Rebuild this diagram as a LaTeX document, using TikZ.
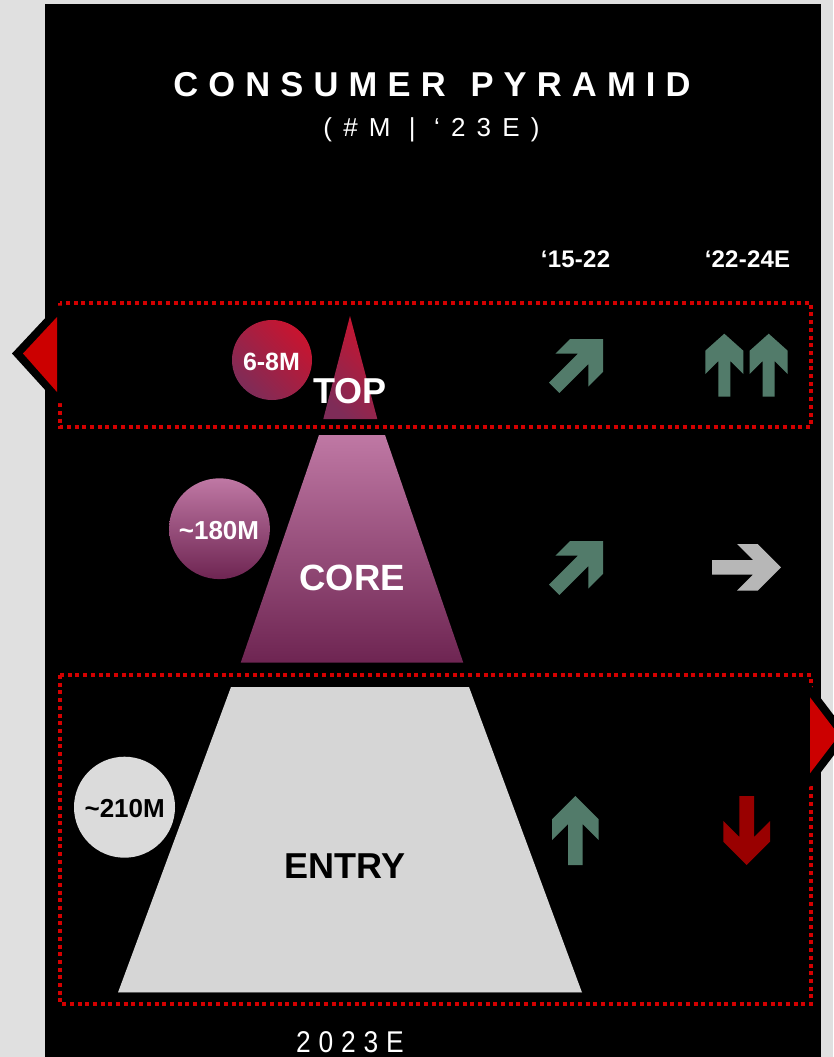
\documentclass[tikz,border=0pt]{standalone}
\usepackage{fontspec}
\setmainfont{Liberation Sans}
\newfontfamily\titlefont[LetterSpace=29.5]{Liberation Sans}
\newfontfamily\subfont[LetterSpace=43]{Liberation Sans}
\newfontfamily\yearfont[LetterSpace=26,FakeStretch=0.88]{Liberation Sans}
\newfontfamily\headfont[LetterSpace=1]{Liberation Sans}

\definecolor{panelgray}{HTML}{E0E0E0}
\definecolor{markred}{HTML}{CC0000}
\definecolor{dotred}{HTML}{D40000}
\definecolor{toprd}{HTML}{C8142F}
\definecolor{toppu}{HTML}{7E2C58}
\definecolor{corelt}{HTML}{BF78A4}
\definecolor{coredk}{HTML}{6E2552}
\definecolor{entrygray}{HTML}{D6D6D6}
\definecolor{circgray}{HTML}{DBDBDB}
\definecolor{upgreen}{HTML}{527B6A}
\definecolor{flatgray}{HTML}{B7B7B7}
\definecolor{downred}{HTML}{990000}

\tikzset{
  bandframe/.style={draw=dotred, line width=3.5pt, dash pattern=on 4pt off 3.7pt},
  lbl/.style={inner sep=0pt, anchor=base, font=\bfseries},
  fatarrow/.pic={\fill[pic actions] (0,0) -- (23.3,23.3) -- (23.3,44) -- (7.3,28)
      -- (7.3,69) -- (-7.3,69) -- (-7.3,28) -- (-23.3,44) -- (-23.3,23.3) -- cycle;},
  slimarrow/.pic={\fill[pic actions] (0,0) -- (19,17) -- (19,40.3) -- (6,27.3)
      -- (6,63) -- (-6,63) -- (-6,27.3) -- (-19,40.3) -- (-19,17) -- cycle;}
}

\begin{document}
\begin{tikzpicture}[x=1pt, y=-1pt]
% page and dark panel
\fill[panelgray] (0,0) rectangle (833,1057);
\useasboundingbox (0,0) rectangle (833,1057);
\fill[black] (45,4) rectangle (821,1057);

% heading
\node[inner sep=0pt, anchor=base, text=white] (title) at (432,96)
  {\titlefont\bfseries\fontsize{34.5}{40}\selectfont CONSUMER\hspace{5pt} PYRAMID};
\node[inner sep=0pt, anchor=base, text=white] (subtitle) at (431.5,136)
  {\subfont\fontsize{26}{30}\selectfont (\#M \textbar{} ‘23E)};

% column headers
\node[inner sep=0pt, anchor=base, text=white] (hA) at (575.5,267.3)
  {\headfont\bfseries\fontsize{24}{26}\selectfont ‘15-22};
\node[inner sep=0pt, anchor=base, text=white] (hB) at (747.5,267.3)
  {\headfont\bfseries\fontsize{24}{26}\selectfont ‘22-24E};

% highlighted bands
\draw[bandframe] (60,303) rectangle (811,427);
\draw[bandframe] (60,675) rectangle (811,1004);

% side markers
\fill[black] (12,353.5) -- (57,305.5) -- (65,305.5) -- (65,403) -- (57,403) -- cycle;
\fill[markred] (57,317) -- (23,353.5) -- (57,392) -- cycle;
\fill[black] (802,684) -- (810,684) -- (849,735.3) -- (810,786.5) -- (802,786.5) -- cycle;
\fill[markred] (810,697.3) -- (839,735.3) -- (810,773.3) -- cycle;

% pyramid tiers
\shade[top color=toprd, bottom color=toppu, shading angle=-45]
  (350,316) -- (377.3,419) -- (323.3,419) -- cycle;
\shade[top color=corelt, bottom color=coredk]
  (319,435) -- (385,435) -- (463.3,662.7) -- (240.7,662.7) -- cycle;
\fill[entrygray] (231,687) -- (469,687) -- (582,992.5) -- (118,992.5) -- cycle;
\draw[gray!70!black, line width=1pt] (118,992.5) -- (582,992.5);

\node[lbl, text=white, font=\bfseries\fontsize{36}{40}\selectfont] (top) at (350,403.3) {TOP};
\node[lbl, text=white, font=\bfseries\fontsize{36.5}{40}\selectfont] (core) at (352,590.7) {CORE};
\node[lbl, text=black, font=\bfseries\fontsize{36}{40}\selectfont] (entry) at (345,878.3) {ENTRY};

% size bubbles
\shade[top color=toprd, bottom color=toppu, shading angle=-45] (272,360) circle[radius=40];
\shade[top color=corelt, bottom color=coredk] (219.5,528.7) circle[radius=50.4];
\fill[circgray] (124.5,807.2) circle[radius=50.5];

\node[lbl, text=white, font=\bfseries\fontsize{25}{28}\selectfont] (nTop) at (271.5,370) {6-8M};
\node[lbl, text=white, font=\bfseries\fontsize{26}{28}\selectfont] (nCore) at (219,539.3) {\textasciitilde180M};
\node[lbl, text=black, font=\bfseries\fontsize{26}{28}\selectfont] (nEntry) at (124.7,817.3) {\textasciitilde210M};

% trend arrows
\pic[fill=upgreen, rotate=-45] at (603,339) {fatarrow};
\pic[fill=upgreen] at (724.3,333.7) {slimarrow};
\pic[fill=upgreen] at (768.7,333.7) {slimarrow};
\pic[fill=upgreen, rotate=-45] at (603,541) {fatarrow};
\pic[fill=flatgray, rotate=-90] at (781,567.3) {fatarrow};
\pic[fill=upgreen] at (575.3,796) {fatarrow};
\pic[fill=downred, rotate=180] at (746.7,865) {fatarrow};

% year label
\node[inner sep=0pt, anchor=base, text=white] (year) at (350,1052.7)
  {\yearfont\fontsize{30}{34}\selectfont 2023E};
\end{tikzpicture}
\end{document}
